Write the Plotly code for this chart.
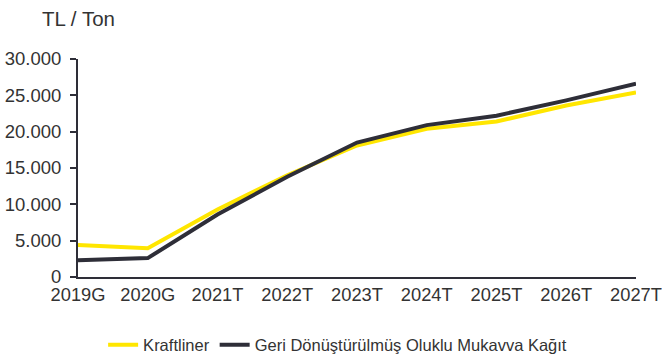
import plotly.graph_objects as go

# Price series, TL per ton
years = ["2019G", "2020G", "2021T", "2022T", "2023T", "2024T", "2025T", "2026T", "2027T"]
kraftliner = [4400, 3950, 9300, 14000, 18100, 20400, 21400, 23600, 25400]
geri_donusum = [2300, 2600, 8600, 13800, 18500, 20900, 22200, 24300, 26600]

y_ticks = [0, 5000, 10000, 15000, 20000, 25000, 30000]

YELLOW = "#FFE600"
DARK = "#2E2E38"
TEXT = "#333333"
FONT = "Liberation Sans, Arial, sans-serif"

fig = go.Figure()
fig.add_trace(go.Scatter(
    x=years, y=kraftliner, name="Kraftliner", mode="lines",
    line=dict(color=YELLOW, width=4),
))
fig.add_trace(go.Scatter(
    x=years, y=geri_donusum, name="Geri Dönüştürülmüş Oluklu Mukavva Kağıt", mode="lines",
    line=dict(color=DARK, width=4),
))

fig.update_layout(
    width=662, height=355,
    margin=dict(l=78, r=26, t=59, b=78, autoexpand=False),
    paper_bgcolor="white", plot_bgcolor="white",
    separators=",.",
    font=dict(family=FONT, size=18, color=TEXT),
    showlegend=True,
    legend=dict(
        orientation="h", x=0.51, xanchor="center", xref="container",
        y=0.028, yanchor="middle", yref="container",
        font=dict(size=16.5, color=TEXT), itemwidth=30,
        traceorder="normal",
    ),
    annotations=[dict(
        text="TL / Ton", xref="paper", yref="paper",
        x=-0.068, y=1.188, xanchor="left", yanchor="middle",
        showarrow=False, font=dict(size=20.5, color=TEXT),
    )],
)

fig.update_xaxes(
    type="category", range=[0, len(years) - 1],
    showline=True, linecolor=DARK, linewidth=2,
    showgrid=False, zeroline=False, ticks="", tickangle=0,
    tickfont=dict(size=18.3, color=TEXT),
)
fig.update_yaxes(
    range=[0, 30000], tickvals=y_ticks, tickformat=",d",
    showline=True, linecolor=DARK, linewidth=2,
    showgrid=False, zeroline=False,
    ticks="outside", ticklen=6, tickcolor=DARK, tickwidth=2,
    ticklabelstandoff=5,
    tickfont=dict(size=18.5, color=TEXT),
)

fig.write_html("out.html")
